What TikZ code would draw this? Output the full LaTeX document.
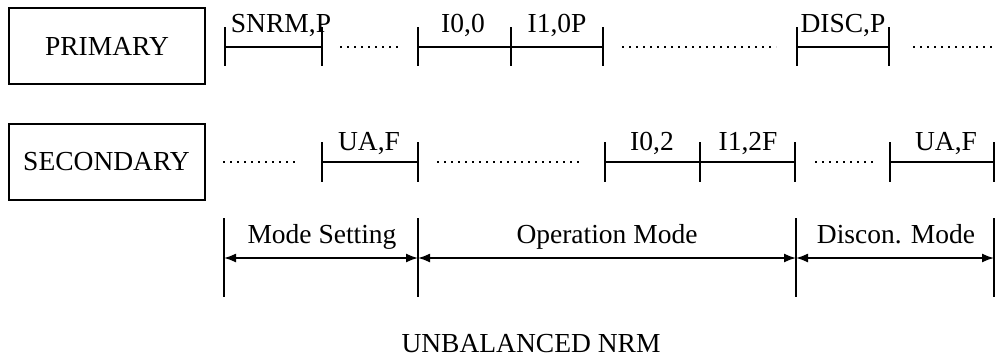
\documentclass[tikz,border=0pt]{standalone}
\usepackage{fontspec}
\setmainfont{Liberation Serif}
\usetikzlibrary{arrows.meta}
\newcommand\lblfont{\fontsize{27.5}{30}\selectfont}
\tikzset{
  box/.style={draw, line width=2pt, minimum width=196pt, minimum height=76pt, inner sep=0pt, font=\lblfont},
  lbl/.style={anchor=base, inner sep=0pt, font=\lblfont},
  segline/.style={line width=2pt},
  tickline/.style={line width=2pt},
  dotline/.style={line width=1.6pt, dash pattern=on 1.6pt off 5.4pt},
  spanline/.style={line width=1.6pt, {Latex[length=12pt,width=9pt]}-{Latex[length=12pt,width=9pt]}}
}
\begin{document}
\begin{tikzpicture}[x=1pt,y=-1pt]
\useasboundingbox (0,0) rectangle (996,364);
% boxes
\node[box] (prim) at (107,46) {PRIMARY};
\node[box] (sec) at (106.5,161.5) {SECONDARY};
% primary row
\foreach \n/\x in {p1/225,p2/322,p3/418,p4/511,p5/603,p6/797,p7/889}
  \coordinate (\n) at (\x,47);
\foreach \n in {p1,p2,p3,p4,p5,p6,p7}
  \draw[tickline] ([yshift=20pt]\n) -- ([yshift=-19pt]\n);
\draw[segline] (p1) -- (p2);
\draw[segline] (p3) -- (p4) -- (p5);
\draw[segline] (p6) -- (p7);
\coordinate (pd1a) at (340,47); \coordinate (pd1b) at (399,47);
\coordinate (pd2a) at (622,47); \coordinate (pd2b) at (776,47);
\coordinate (pd3a) at (913,47); \coordinate (pd3b) at (996,47);
\draw[dotline] (pd1a) -- (pd1b);
\draw[dotline] (pd2a) -- (pd2b);
\draw[dotline] (pd3a) -- (pd3b);
\node[lbl] (lsnrm) at (281,32) {SNRM,P};
\node[lbl] (li00) at (463,32) {I0,0};
\node[lbl] (li10) at (557,32) {I1,0P};
\node[lbl] (ldisc) at (843,32) {DISC,P};
% secondary row
\foreach \n/\x in {s1/322,s2/418,s3/605,s4/700,s5/795,s6/890,s7/994}
  \coordinate (\n) at (\x,162);
\foreach \n in {s1,s2,s3,s4,s5,s6,s7}
  \draw[tickline] ([yshift=20pt]\n) -- ([yshift=-20pt]\n);
\draw[segline] (s1) -- (s2);
\draw[segline] (s3) -- (s4) -- (s5);
\draw[segline] (s6) -- (s7);
\coordinate (sd1a) at (223,162); \coordinate (sd1b) at (299,162);
\coordinate (sd2a) at (437,162); \coordinate (sd2b) at (583,162);
\coordinate (sd3a) at (815,162); \coordinate (sd3b) at (873,162);
\draw[dotline] (sd1a) -- (sd1b);
\draw[dotline] (sd2a) -- (sd2b);
\draw[dotline] (sd3a) -- (sd3b);
\node[lbl] (lua1) at (369,150) {UA,F};
\node[lbl] (li02) at (652,150) {I0,2};
\node[lbl] (li12) at (748,150) {I1,2F};
\node[lbl] (lua2) at (946,150) {UA,F};
% mode spans
\foreach \n/\x in {m1/224,m2/418,m3/796,m4/994}
  \coordinate (\n) at (\x,258);
\foreach \n in {m1,m2,m3,m4}
  \draw[line width=1.8pt] ([yshift=40pt]\n) -- ([yshift=-39pt]\n);
\draw[spanline] (m1) -- (m2);
\draw[spanline] (m2) -- (m3);
\draw[spanline] (m3) -- (m4);
\node[lbl] (lmset) at (322,243) {Mode Setting};
\node[lbl] (lop) at (607,243) {Operation Mode};
\node[lbl] (ldisco) at (896,243) {Discon. Mode};
% caption
\node[lbl] (cap) at (531,352) {UNBALANCED NRM};
\end{tikzpicture}
\end{document}
